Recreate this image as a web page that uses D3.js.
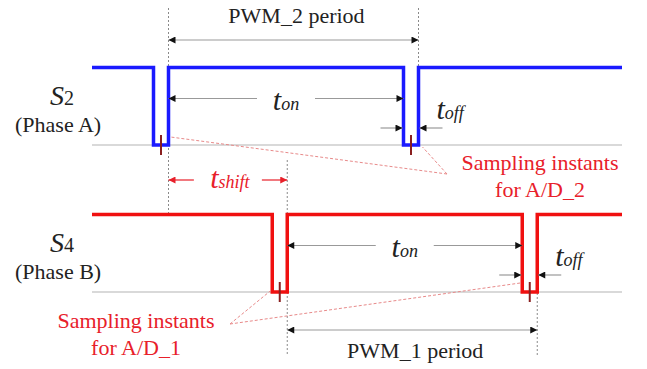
<!DOCTYPE html>
<html>
<head>
<meta charset="utf-8">
<script src="https://cdn.jsdelivr.net/npm/d3@7"></script>
<style>
  html, body { margin: 0; padding: 0; background: #fff; }
  svg { display: block; }
</style>
</head>
<body>
<svg id="chart" width="647" height="369"></svg>
<script>
// Two phase-shifted PWM gate signals with their sampling instants

// Data
const phaseLetters = ["S", "S"];
const phaseSubs = ["2", "4"];
const phaseNames = ["(Phase A)", "(Phase B)"];
const riseEdges = [[30.6, 130.6], [78.1, 178.1]];   // time units, S2 then S4
const offTime = 6;
const periodLabels = ["PWM_2 period", "PWM_1 period"];
const samplingLabels = [["Sampling instants", "for A/D_2"], ["Sampling instants", "for A/D_1"]];
const timeSpan = [0, 212];

const svg = d3.select("#chart");
const serif = '"Liberation Serif"';

const x = d3.scaleLinear().domain(timeSpan).range([92, 622]);
const rowBase = d3.scaleOrdinal().domain([0, 1]).range([145, 292]);
const level = d3.scaleLinear().domain([0, 1]).range([0, -77.5]);
const waveColor = ["#1a1aff", "#f01010"];
const red = "#e8202a";

// arrow markers
const defs = svg.append("defs");
[["arr", "#111"], ["arrRed", red]].forEach(([id, fill]) => {
    defs.append("marker")
        .attr("id", id)
        .attr("viewBox", "0 0 10 10")
        .attr("refX", 10).attr("refY", 5)
        .attr("markerWidth", 9).attr("markerHeight", 7)
        .attr("markerUnits", "userSpaceOnUse")
        .attr("orient", "auto-start-reverse")
        .append("path").attr("d", "M0,0 L10,5 L0,10 z").attr("fill", fill);
});

const gGuide = svg.append("g");
const gWave = svg.append("g");
const gNote = svg.append("g");

function addText(parent) {
    return parent.append("text").style("font-family", serif);
}

// baseline grey lines
phaseNames.forEach((_, i) => {
    gGuide.append("line")
        .attr("x1", x(timeSpan[0])).attr("x2", x(timeSpan[1]))
        .attr("y1", rowBase(i)).attr("y2", rowBase(i))
        .attr("stroke", "#b4b4b4").attr("stroke-width", 1.2);
});

// dotted vertical guides
const guides = [
    { t: riseEdges[0][0], y1: 8, y2: 213 },
    { t: riseEdges[0][1], y1: 8, y2: 66 },
    { t: riseEdges[1][0], y1: 160, y2: 355 },
    { t: riseEdges[1][1], y1: 293, y2: 355 }
];
gGuide.selectAll("line.guide")
    .data(guides)
    .join("line")
    .attr("class", "guide")
    .attr("x1", d => x(d.t)).attr("x2", d => x(d.t))
    .attr("y1", d => d.y1).attr("y2", d => d.y2)
    .attr("stroke", "#8a8a8a").attr("stroke-width", 1)
    .attr("stroke-dasharray", "2,2");

// waveforms
const line = d3.line().x(d => x(d[0])).y(d => d[1]);
riseEdges.forEach((edges, i) => {
    const hi = rowBase(i) + level(1), lo = rowBase(i) + level(0);
    const pts = [[timeSpan[0], hi]];
    edges.forEach(r => {
        pts.push([r - offTime, hi], [r - offTime, lo], [r, lo], [r, hi]);
    });
    pts.push([timeSpan[1], hi]);
    gWave.append("path")
        .attr("d", line(pts))
        .attr("fill", "none")
        .attr("stroke", waveColor[i])
        .attr("stroke-width", 3.5)
        .attr("stroke-linejoin", "miter");

    // sampling ticks at middle of off-time
    edges.forEach(r => {
        const sx = x(r - offTime / 2);
        gWave.append("line")
            .attr("x1", sx).attr("x2", sx)
            .attr("y1", lo - 10).attr("y2", lo + 10)
            .attr("stroke", "#8a1f1f").attr("stroke-width", 2);
    });

    // phase labels
    const lab = addText(gNote)
        .attr("x", 50).attr("y", hi + 37)
        .attr("fill", "#222");
    lab.append("tspan").attr("font-style", "italic").attr("font-size", 28).text(phaseLetters[i]);
    lab.append("tspan").attr("font-size", 20).text(phaseSubs[i]);
    addText(gNote)
        .attr("x", 15).attr("y", hi + 64)
        .attr("font-size", 22).attr("fill", "#222")
        .text(phaseNames[i]);
});

// dimension helper
function dim(xa, xb, y, gap, color, marker) {
    const mid = (xa + xb) / 2;
    const segs = gap ? [[xa, mid - gap / 2, true], [xb, mid + gap / 2, true]] : [[xa, xb, false]];
    segs.forEach(s => {
        const l = gNote.append("line")
            .attr("x1", s[1]).attr("x2", s[0])
            .attr("y1", y).attr("y2", y)
            .attr("stroke", color).attr("stroke-width", 1.2)
            .attr("marker-end", `url(#${marker})`);
        if (!s[2]) l.attr("marker-start", `url(#${marker})`);
    });
}

function tLabel(cx, y, sub, color, anchor) {
    const t = addText(gNote)
        .attr("x", cx).attr("y", y)
        .attr("font-style", "italic")
        .attr("fill", color)
        .attr("text-anchor", anchor || "middle");
    t.append("tspan").attr("font-size", 30).text("t");
    t.append("tspan").attr("font-size", 18).text(sub);
}

// period dimensions
const periodY = [40, 330];
riseEdges.forEach((edges, i) => {
    const xa = x(edges[0]), xb = x(edges[1]);
    dim(xa, xb, periodY[i], 0, "#999", "arr");
    addText(gNote)
        .attr("x", (xa + xb) / 2 + 3).attr("y", i === 0 ? 23 : 358)
        .attr("text-anchor", "middle")
        .attr("font-size", 22).attr("fill", "#222")
        .text(periodLabels[i]);
});

// t_on and t_off
riseEdges.forEach((edges, i) => {
    const hi = rowBase(i) + level(1), lo = rowBase(i) + level(0);
    const xa = x(edges[0]), xb = x(edges[1] - offTime);
    const yOn = hi + 31;
    dim(xa, xb, yOn, 58, "#999", "arr");
    tLabel((xa + xb) / 2, yOn + 11, "on", "#222");

    const fx = x(edges[1] - offTime), rx = x(edges[1]);
    const yOff = lo - 17;
    gNote.append("line").attr("x1", fx - 23).attr("x2", fx - 1).attr("y1", yOff).attr("y2", yOff)
        .attr("stroke", "#999").attr("stroke-width", 1.2).attr("marker-end", "url(#arr)");
    gNote.append("line").attr("x1", rx + 24).attr("x2", rx + 1).attr("y1", yOff).attr("y2", yOff)
        .attr("stroke", "#999").attr("stroke-width", 1.2).attr("marker-end", "url(#arr)");
    tLabel(rx + 18, hi + 51, "off", "#222", "start");
});

// t_shift
dim(x(riseEdges[0][0]), x(riseEdges[1][0]), 180, 68, red, "arrRed");
tLabel((x(riseEdges[0][0]) + x(riseEdges[1][0])) / 2 + 2, 188, "shift", red);

// sampling callouts
const callouts = [
    { at: [447, 174], to: [[x(riseEdges[0][0]) + 2, 137], [x(riseEdges[0][1]) + 4, 147]], tx: 540, ty: 170 },
    { at: [230, 324], to: [[x(riseEdges[1][0] - offTime) - 2, 291], [x(riseEdges[1][1] - offTime) - 2, 283]], tx: 136, ty: 328 }
];
callouts.forEach((c, i) => {
    c.to.forEach(p => {
        gNote.append("line")
            .attr("x1", c.at[0]).attr("y1", c.at[1])
            .attr("x2", p[0]).attr("y2", p[1])
            .attr("stroke", "#e88a8a").attr("stroke-width", 1)
            .attr("stroke-dasharray", "3,2");
    });
    samplingLabels[i].forEach((d, k) => {
        addText(gNote)
            .attr("x", c.tx)
            .attr("y", c.ty + k * 27)
            .attr("text-anchor", "middle")
            .attr("font-size", 22)
            .attr("fill", red)
            .text(d);
    });
});
</script>
</body>
</html>
